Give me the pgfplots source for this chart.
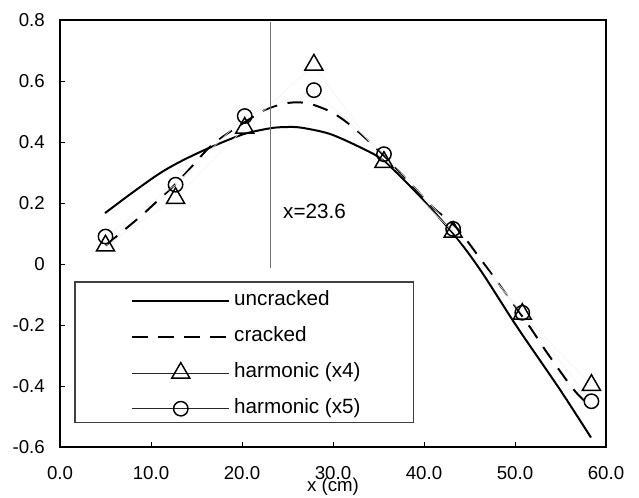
\documentclass[border=0pt]{standalone}
\usepackage{fontspec}
\setmainfont{Liberation Sans}
\usepackage{pgfplots}
\pgfplotsset{compat=1.18}
\newcommand{\tickfont}{\fontsize{14}{16}\selectfont}
\newcommand{\legfont}{\fontsize{15.5}{18}\selectfont}
\begin{document}
\begin{tikzpicture}
\path[use as bounding box] (-45pt,-38.25pt) rectangle (434.25pt,335.25pt);
\begin{axis}[
 at={(0,0)}, anchor=south west,
 scale only axis, width=409.5pt, height=320.25pt,
 xmin=0, xmax=60, ymin=-0.6, ymax=0.8,
 xtick={0,10,...,60}, xticklabels={0.0,10.0,20.0,30.0,40.0,50.0,60.0},
 ytick={-0.6,-0.4,-0.2,0,0.2,0.4,0.6,0.8},
 yticklabels={-0.6,-0.4,-0.2,0,0.2,0.4,0.6,0.8},
 xtick pos=bottom, ytick pos=left, tick align=inside, major tick length=3.5pt,
 axis line style={line width=0.8pt},
 every tick/.style={black, line width=0.7pt},
 xticklabel style={font=\tickfont, anchor=base, inner sep=0pt, yshift=-24.75pt},
 yticklabel style={font=\tickfont, anchor=east, inner sep=0pt, xshift=-11.25pt},
 xlabel={x (cm)},
 xlabel style={at={(axis description cs:0.5,0)}, anchor=base, inner sep=0pt, yshift=-33.5pt, font=\tickfont},
 clip=false,
 legend style={at={(axis cs:7.8,-0.088)}, anchor=north west, draw=none, fill=none,
   inner sep=0pt, row sep=12.3pt,
   nodes={inner sep=0pt, text height=11pt, text depth=3.5pt, font=\legfont}},
 legend cell align=left,
 /tikz/every odd column/.append style={column sep=3pt},
]
% uncracked
\addplot[black, line width=1.5pt, smooth, tension=0.5,
  legend image code/.code={\draw[black, line width=1.5pt] (0pt,0pt) -- (72.75pt,0pt);}]
 coordinates {
 (4.95,0.167) (8,0.235) (11,0.298) (13.5,0.34) (16.5,0.382) (20.1,0.425)
 (23.1,0.445) (24.8,0.449) (26.5,0.447) (29.7,0.426) (33.3,0.378) (35.5,0.34)
 (38.8,0.245) (43.2,0.10) (46.2,-0.02) (50.2,-0.205) (54.9,-0.41) (58.35,-0.569)};
\addlegendentry{uncracked}
% cracked
\addplot[black, line width=1.5pt, dash pattern=on 11.5pt off 8pt, smooth, tension=0.5,
  legend image code/.code={\draw[black, line width=1.5pt, dash pattern=on 11.5pt off 8pt] (0pt,0pt) -- (72.75pt,0pt);}]
 coordinates {
 (5,0.06) (7,0.11) (9,0.16) (11,0.215) (12.7,0.262) (14.5,0.32) (16.5,0.385)
 (18.5,0.43) (20.3,0.465) (22.5,0.505) (24.5,0.525) (26,0.53) (27.5,0.525)
 (29.7,0.5) (31.5,0.465) (33.3,0.42) (35.6,0.355) (38.8,0.255) (41,0.185)
 (43.6,0.118) (46,0.025) (48.7,-0.085) (51.6,-0.205) (53.5,-0.29) (56.4,-0.41) (58.2,-0.465)};
\addlegendentry{cracked}
% harmonic x4
\addplot[draw=black!5, line width=0.4pt, mark=triangle, mark size=7.8pt,
  mark options={draw=black, line width=1.1pt, solid},
  legend image code/.code={\draw[black!85, line width=0.5pt] (0pt,0pt) -- (72.75pt,0pt);
    \draw plot coordinates {(36.4pt,0pt)};}]
 coordinates {(5.0,0.06) (12.7,0.216) (20.3,0.446) (27.9,0.653) (35.6,0.334)
 (43.2,0.105) (50.8,-0.164) (58.4,-0.397)};
\addlegendentry{harmonic (x4)}
% harmonic x5
\addplot[draw=black!5, line width=0.4pt, mark=o, mark size=5.4pt,
  mark options={draw=black, line width=1.1pt, solid},
  legend image code/.code={\draw[black!85, line width=0.5pt] (0pt,0pt) -- (72.75pt,0pt);
    \draw plot coordinates {(36.4pt,0pt)};}]
 coordinates {(5.0,0.09) (12.7,0.26) (20.3,0.485) (27.9,0.57) (35.6,0.36)
 (43.2,0.115) (50.8,-0.16) (58.4,-0.45)};
\addlegendentry{harmonic (x5)}
% vertical line
\addplot[black!55, line width=0.7pt, forget plot] coordinates {(23.1,0.793) (23.1,-0.013)};
\node[anchor=base west, inner sep=0pt, font=\legfont] at (axis cs:24.5,0.15) {x=23.6};
\draw[black!75, line width=0.8pt] (axis cs:1.65,-0.059) rectangle (axis cs:38.8,-0.521);
\end{axis}
\end{tikzpicture}
\end{document}
